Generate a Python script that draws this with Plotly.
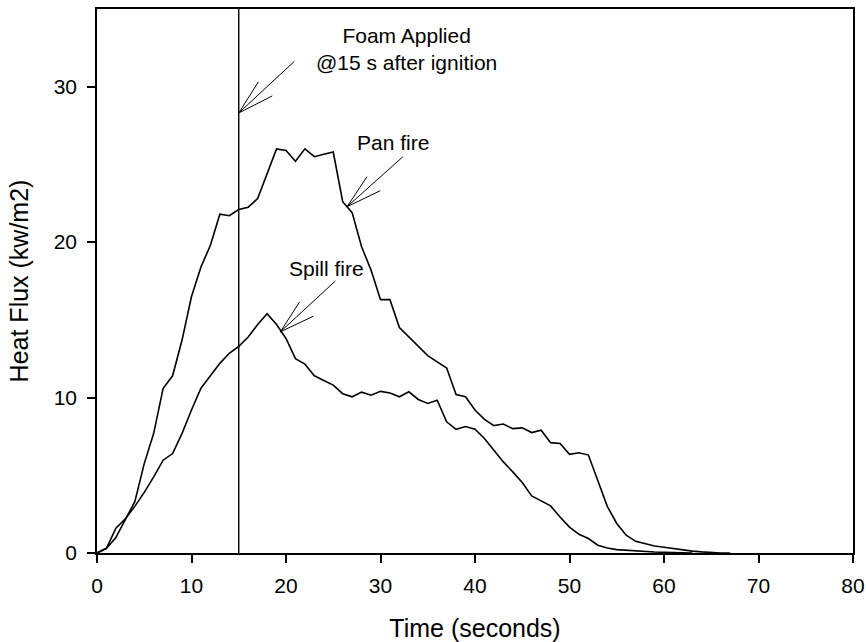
import plotly.graph_objects as go

# ---- data ----
time_pan = list(range(0, 68))
pan_fire = [0, 0.3, 1.0, 2.2, 3.3, 5.75, 7.7, 10.6, 11.4, 13.7, 16.5, 18.4, 19.8, 21.8,
            21.7, 22.1, 22.25, 22.8, 24.4, 26.0, 25.9, 25.2, 26.0, 25.5, 25.65, 25.8,
            22.6, 21.9, 19.7, 18.2, 16.3, 16.3, 14.5, 13.9, 13.3, 12.7, 12.3, 11.9,
            10.2, 10.05, 9.2, 8.6, 8.2, 8.3, 8.0, 8.05, 7.75, 7.9, 7.1, 7.05, 6.35,
            6.45, 6.3, 4.6, 3.0, 1.9, 1.15, 0.75, 0.6, 0.45, 0.37, 0.28, 0.2, 0.12,
            0.07, 0.02, 0, 0]

time_spill = list(range(0, 64))
spill_fire = [0, 0.3, 1.6, 2.2, 3.0, 3.9, 4.9, 5.97, 6.4, 7.7, 9.2, 10.6, 11.4, 12.2,
              12.85, 13.3, 13.9, 14.7, 15.4, 14.7, 13.8, 12.5, 12.15, 11.4, 11.1, 10.8,
              10.25, 10.05, 10.35, 10.15, 10.4, 10.3, 10.05, 10.37, 9.88, 9.62, 9.83,
              8.44, 7.96, 8.14, 7.96, 7.37, 6.61, 5.86, 5.22, 4.53, 3.67, 3.35, 3.03,
              2.32, 1.67, 1.2, 0.93, 0.5, 0.32, 0.22, 0.17, 0.13, 0.09, 0.06, 0.04,
              0.02, 0.01, 0]

foam_time = 15
x_ticks = [0, 10, 20, 30, 40, 50, 60, 70, 80]
y_ticks = [0, 10, 20, 30]
x_range = [0, 80]
y_range = [0, 35]

FONT = "Arial, Liberation Sans, sans-serif"
BLACK = "black"

fig = go.Figure()
fig.add_trace(go.Scatter(x=time_pan, y=pan_fire, mode="lines", name="Pan fire",
                         line=dict(color=BLACK, width=1.6), showlegend=False))
fig.add_trace(go.Scatter(x=time_spill, y=spill_fire, mode="lines", name="Spill fire",
                         line=dict(color=BLACK, width=1.6), showlegend=False))
fig.add_trace(go.Scatter(x=[foam_time, foam_time], y=y_range, mode="lines",
                         line=dict(color=BLACK, width=1.4), showlegend=False,
                         hoverinfo="skip"))

# open arrows: (tip, tail, barb1, barb2) in data coordinates
arrows = [
    ((15.0, 28.31), (20.88, 31.63), (17.07, 30.31), (18.55, 29.41)),
    ((26.46, 22.28), (32.38, 25.5), (28.57, 24.21), (29.98, 23.31)),
    ((19.4, 14.23), (25.22, 17.5), (21.44, 16.16), (22.92, 15.24)),
]
shapes = []
for tip, tail, b1, b2 in arrows:
    for end in (tail, b1, b2):
        shapes.append(dict(type="line", xref="x", yref="y", x0=tip[0], y0=tip[1],
                           x1=end[0], y1=end[1], line=dict(color=BLACK, width=1)))

ANN = dict(family=FONT, size=21, color=BLACK)
annotations = [
    dict(x=32.8, y=32.45, text="Foam Applied<br>@15 s after ignition", showarrow=False,
         xanchor="center", yanchor="middle", align="center", font=ANN),
    dict(x=31.3, y=26.44, text="Pan fire", showarrow=False, xanchor="center",
         yanchor="middle", font=ANN),
    dict(x=24.26, y=18.3, text="Spill fire", showarrow=False, xanchor="center",
         yanchor="middle", font=ANN),
]

fig.update_layout(
    width=866, height=642,
    margin=dict(l=97, r=13, t=9, b=89),
    paper_bgcolor="white", plot_bgcolor="white",
    font=dict(family=FONT, color=BLACK),
    shapes=shapes, annotations=annotations,
    xaxis=dict(range=x_range, tickvals=x_ticks, ticks="outside", ticklen=8,
               tickwidth=1.5, tickcolor=BLACK, showline=True, linecolor=BLACK,
               linewidth=1.5, mirror=True, showgrid=False, zeroline=False,
               automargin=False, ticklabelstandoff=5, ticklabeloverflow="allow",
               tickfont=dict(family=FONT, size=21, color=BLACK),
               title=dict(text="Time (seconds)", font=dict(family=FONT, size=25, color=BLACK),
                          standoff=25)),
    yaxis=dict(range=y_range, tickvals=y_ticks, ticks="outside", ticklen=8,
               tickwidth=1.5, tickcolor=BLACK, showline=True, linecolor=BLACK,
               linewidth=1.5, mirror=True, showgrid=False, zeroline=False,
               automargin=False, ticklabelstandoff=6,
               tickfont=dict(family=FONT, size=21, color=BLACK),
               title=dict(text="Heat Flux (kw/m2)", font=dict(family=FONT, size=25, color=BLACK),
                          standoff=18)),
)

# remove the page's default body margin so the figure fills the window exactly
fig.write_html("out.html",
               config={"displayModeBar": False},
               post_script="document.body.style.margin='0px';"
                           "document.body.style.overflow='hidden';")
